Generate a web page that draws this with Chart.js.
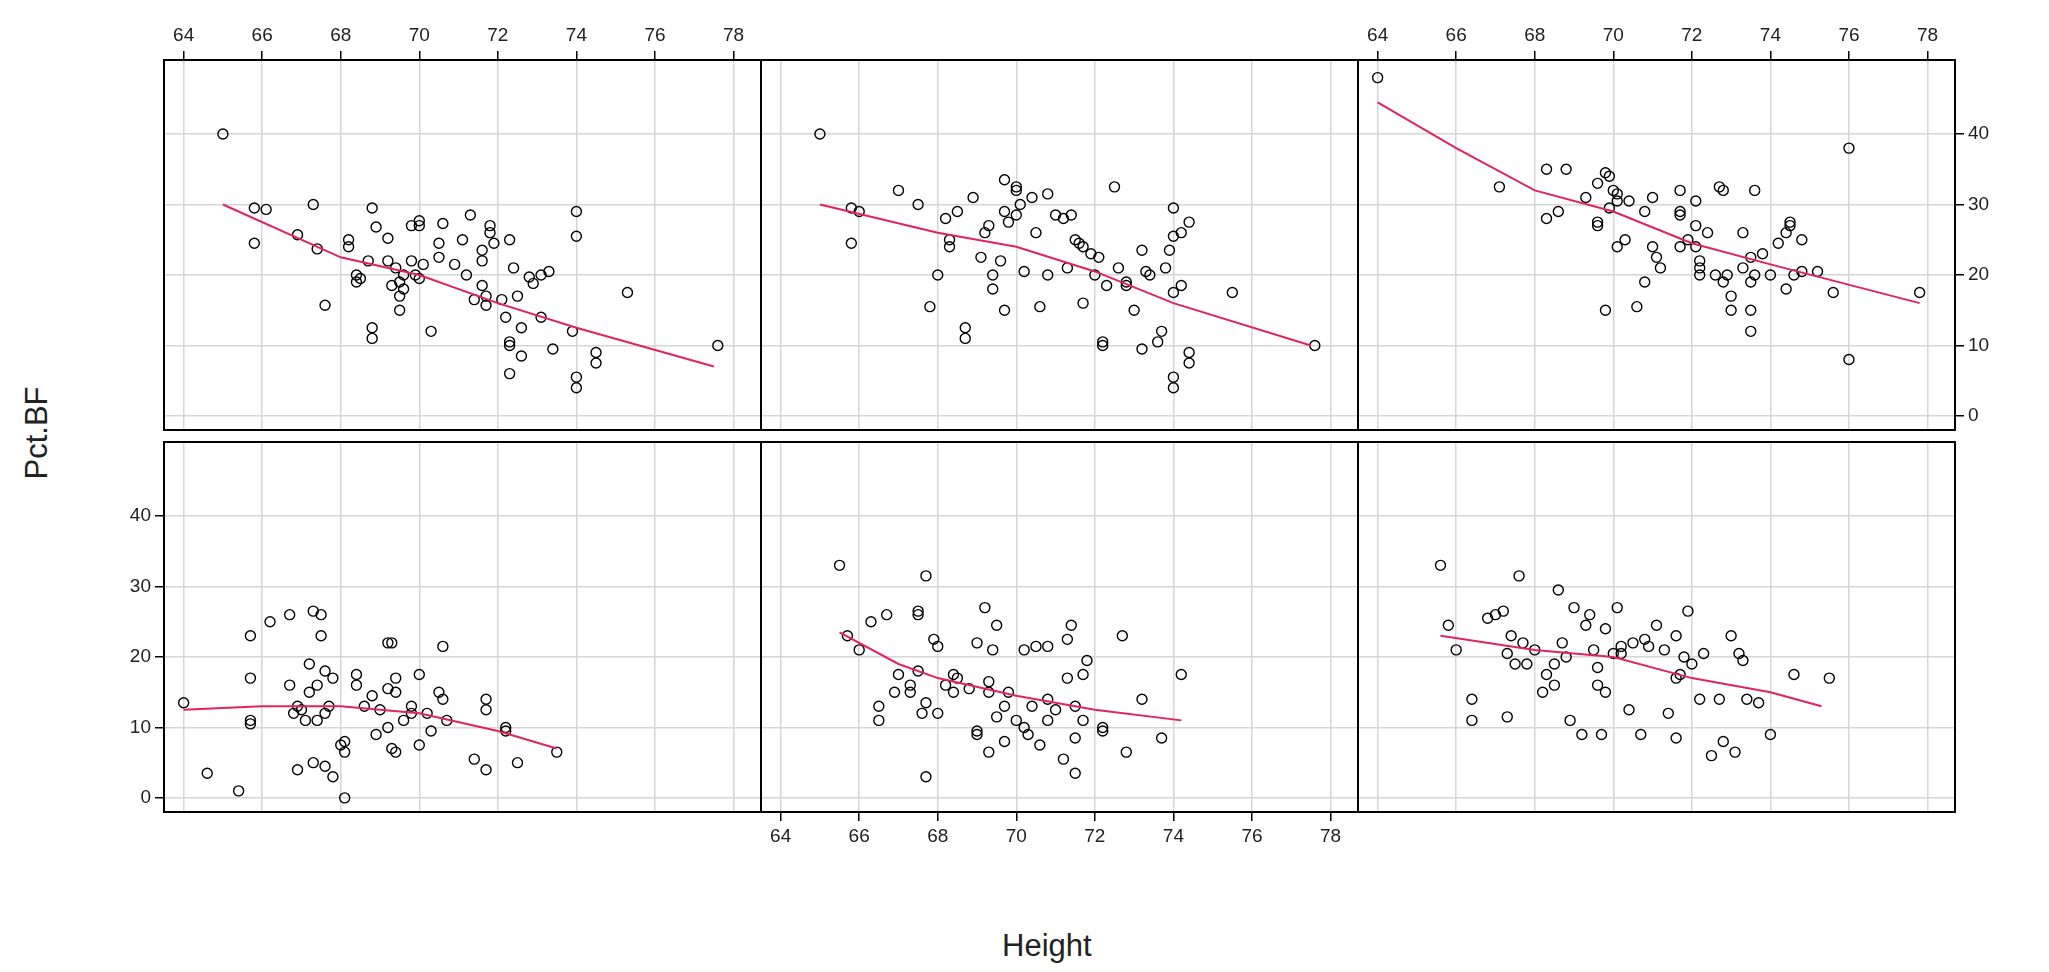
<!DOCTYPE html>
<html><head><meta charset="utf-8">
<script src="https://cdn.jsdelivr.net/npm/chart.js@4"></script>
<style>
body{margin:0;background:#fff;width:2049px;height:972px;position:relative;overflow:hidden;font-family:"Liberation Sans",Arial,sans-serif}
canvas{position:absolute}
.lab{position:absolute;font-size:31px;color:#222}
</style></head><body>
<div class="lab" style="left:1002px;top:928px">Height</div>
<div class="lab" style="left:-10px;top:415px;transform:rotate(-90deg)">Pct.BF</div>
<script>
const X_TICKS = [64, 66, 68, 70, 72, 74, 76, 78];
const Y_TICKS = [0, 10, 20, 30, 40];

// panel 1: top-left
const p1Pts = [[65,40],[65.8,29.5],[66.1,29.3],[65.8,24.5],[67.3,30],[66.9,25.7],[67.4,23.7],[67.6,15.7],[68.2,25],[68.2,24],[68.4,20],[68.4,19],[68.5,19.5],[68.7,22],[68.8,29.5],[68.9,26.8],[68.8,12.5],[68.8,11],[69.2,25.2],[69.2,22],[69.3,18.5],[69.4,21],[69.5,19],[69.5,17],[69.5,15],[69.6,20],[69.6,18],[69.8,27],[69.8,22],[69.9,20],[70,27.7],[70,27],[70,19.5],[70.1,21.5],[70.3,12],[70.5,24.5],[70.5,22.5],[70.6,27.3],[70.9,21.5],[71.1,25],[71.2,20],[71.3,28.5],[71.4,16.5],[71.6,23.5],[71.6,22],[71.6,18.5],[71.7,17],[71.7,15.7],[71.8,27],[71.8,26],[71.9,24.5],[72.1,16.5],[72.2,14],[72.3,25],[72.3,10.5],[72.3,10],[72.3,6],[72.4,21],[72.5,17],[72.6,12.5],[72.6,8.5],[72.8,19.7],[72.9,18.8],[73.1,20],[73.1,14],[73.3,20.5],[73.4,9.5],[73.9,12],[74,29],[74,25.5],[74,5.5],[74,4],[74.5,9],[74.5,7.5],[75.3,17.5],[77.6,10]];
const p1Fit = [[65,30],[68,22.5],[70,20],[72,16],[74,12.5],[77.5,7]];

// panel 2: top-middle
const p2Pts = [[65,40],[65.8,29.5],[66,29],[65.8,24.5],[67,32],[67.5,30],[67.8,15.5],[68,20],[68.2,28],[68.3,25],[68.3,24],[68.5,29],[68.7,12.5],[68.7,11],[68.9,31],[69.1,22.5],[69.2,26],[69.3,27],[69.4,20],[69.4,18],[69.6,22],[69.7,33.5],[69.7,29],[69.7,15],[69.8,27.5],[70,32.5],[70,32],[70,28.5],[70.1,30],[70.2,20.5],[70.4,31],[70.5,26],[70.6,15.5],[70.8,31.5],[70.8,20],[71,28.5],[71.2,28],[71.3,21],[71.4,28.5],[71.5,25],[71.6,24.5],[71.7,24],[71.7,16],[71.9,23],[72,20],[72.1,22.5],[72.2,10.5],[72.2,10],[72.3,18.5],[72.5,32.5],[72.6,21],[72.8,19],[72.8,18.5],[73,15],[73.2,23.5],[73.2,9.5],[73.3,20.5],[73.4,20],[73.6,10.5],[73.7,12],[73.8,21],[73.9,23.5],[74,29.5],[74,25.5],[74,17.5],[74,5.5],[74,4],[74.2,26],[74.2,18.5],[74.4,27.5],[74.4,9],[74.4,7.5],[75.5,17.5],[77.6,10]];
const p2Fit = [[65,30],[68,26],[70,24],[72,20.5],[74,16],[77.5,10]];

// panel 3: top-right
const p3Pts = [[64,48],[67.1,32.5],[68.3,35],[68.3,28],[68.6,29],[68.8,35],[69.3,31],[69.6,33],[69.6,27.5],[69.6,27],[69.8,34.5],[69.9,34],[69.9,29.5],[69.8,15],[70,32],[70.1,31.5],[70.1,30.5],[70.1,24],[70.3,25],[70.4,30.5],[70.6,15.5],[70.8,29],[70.8,19],[71,31],[71,24],[71.1,22.5],[71.2,21],[71.7,32],[71.7,29],[71.7,28.5],[71.7,24],[71.9,25],[72.1,30.5],[72.1,27],[72.1,24],[72.2,22],[72.2,21],[72.2,20],[72.4,26],[72.6,20],[72.7,32.5],[72.8,19],[72.8,32],[72.9,20],[73,17],[73,15],[73.3,26],[73.3,21],[73.5,22.5],[73.5,19],[73.5,15],[73.5,12],[73.6,32],[73.6,20],[73.8,23],[74,20],[74.2,24.5],[74.4,26],[74.4,18],[74.5,27.5],[74.5,27],[74.6,20],[74.8,20.5],[74.8,25],[75.2,20.5],[75.6,17.5],[76,38],[76,8],[77.8,17.5]];
const p3Fit = [[64,44.5],[66,38],[68,32],[70,29],[72,24.5],[74,21.5],[77.8,16]];

// panel 4: bottom-left
const p4Pts = [[64,13.5],[64.6,3.5],[65.4,1],[65.7,23],[65.7,17],[65.7,11],[65.7,10.5],[66.2,25],[66.7,26],[66.7,16],[66.8,12],[66.9,4],[66.9,13],[67,12.5],[67.1,11],[67.2,19],[67.2,15],[67.3,26.5],[67.3,5],[67.4,16],[67.4,11],[67.5,26],[67.5,23],[67.6,18],[67.6,12],[67.6,4.5],[67.7,13],[67.8,3],[67.8,17],[68,7.5],[68.1,8],[68.1,0],[68.1,6.5],[68.4,17.5],[68.4,16],[68.6,13],[68.8,14.5],[68.9,9],[69,12.5],[69.2,22],[69.3,22],[69.2,15.5],[69.2,10],[69.3,7],[69.4,17],[69.4,6.5],[69.4,15],[69.6,11],[69.8,12],[69.8,13],[70,17.5],[70,7.5],[70.2,12],[70.3,9.5],[70.5,15],[70.6,21.5],[70.6,14],[70.7,11],[71.4,5.5],[71.7,14],[71.7,12.5],[71.7,4],[72.2,10],[72.2,9.5],[72.5,5],[73.5,6.5]];
const p4Fit = [[64,12.5],[66,13],[68,13],[70,12],[72,9.5],[73.5,7]];

// panel 5: bottom-middle
const p5Pts = [[65.5,33],[65.7,23],[66,21],[66.3,25],[66.5,13],[66.5,11],[66.7,26],[66.9,15],[67,17.5],[67.3,16],[67.3,15],[67.5,26.5],[67.5,26],[67.5,18],[67.6,12],[67.7,31.5],[67.7,13.5],[67.7,3],[67.9,22.5],[68,21.5],[68,12],[68.2,16],[68.4,15],[68.4,17.5],[68.5,17],[68.8,15.5],[69,22],[69,9.5],[69,9],[69.2,27],[69.3,15],[69.3,6.5],[69.3,16.5],[69.4,21],[69.5,24.5],[69.5,11.5],[69.7,13],[69.7,8],[69.8,15],[70,11],[70.2,21],[70.2,10],[70.3,9],[70.4,13],[70.5,21.5],[70.6,7.5],[70.8,21.5],[70.8,14],[70.8,11],[71,12.5],[71.2,5.5],[71.3,22.5],[71.3,17],[71.4,24.5],[71.5,13],[71.5,8.5],[71.5,3.5],[71.7,11],[71.7,17.5],[71.8,19.5],[72.2,10],[72.2,9.5],[72.7,23],[72.8,6.5],[73.2,14],[73.7,8.5],[74.2,17.5]];
const p5Fit = [[65.5,23.5],[67,19],[68,17],[70,14.5],[72,12.5],[74.2,11]];

// panel 6: bottom-right
const p6Pts = [[65.6,33],[65.8,24.5],[66,21],[66.4,14],[66.4,11],[66.8,25.5],[67,26],[67.2,26.5],[67.3,20.5],[67.3,11.5],[67.4,23],[67.5,19],[67.6,31.5],[67.7,22],[67.8,19],[68,21],[68.2,15],[68.3,17.5],[68.5,16],[68.5,19],[68.6,29.5],[68.7,22],[68.8,20],[68.9,11],[69,27],[69.2,9],[69.3,24.5],[69.4,26],[69.5,21],[69.6,18.5],[69.6,16],[69.7,9],[69.8,15],[69.8,24],[70,20.5],[70.1,27],[70.2,21.5],[70.2,20.5],[70.4,12.5],[70.5,22],[70.7,9],[70.8,22.5],[70.9,21.5],[71.1,24.5],[71.3,21],[71.4,12],[71.6,23],[71.6,17],[71.6,8.5],[71.7,17.5],[71.8,20],[71.9,26.5],[72,19],[72.2,14],[72.3,20.5],[72.5,6],[72.7,14],[72.8,8],[73,23],[73.1,6.5],[73.2,20.5],[73.3,19.5],[73.4,14],[73.7,13.5],[74,9],[74.6,17.5],[75.5,17]];
const p6Fit = [[65.6,23],[68,21],[70,20],[72,17],[74,15],[75.3,13]];

const M = 60, PW = 597, PH = 370;
const COL_X = [164, 761, 1358];
const ROW_Y = [60, 442];

const boxPlugin = {
    id: 'box',
    afterDraw(c) {
        const a = c.chartArea, ctx = c.ctx;
        ctx.save(); ctx.strokeStyle = '#000'; ctx.lineWidth = 2;
        ctx.strokeRect(a.left, a.top, a.right - a.left, a.bottom - a.top);
        ctx.restore();
    }
};

function axis(pos, labelled, grid, ticksArr, min, max) {
    return {
        position: pos, min, max,
        afterFit: s => { if (pos === 'left' || pos === 'right') s.width = M; else s.height = M; },
        afterBuildTicks: s => { s.ticks = ticksArr.map(v => ({ value: v })); },
        border: { display: true, color: '#000', width: 2 },
        grid: { display: true, drawOnChartArea: grid, color: '#d6d6d6', lineWidth: 1.5,
                drawTicks: labelled, tickColor: '#000', tickLength: 9, tickWidth: 1.5 },
        ticks: { display: labelled, color: '#222', font: { size: 19, family: 'Liberation Sans' }, padding: 4, maxRotation: 0 },
    };
}

function panel(col, row, pts, fit, lab) {
    const cv = document.createElement('canvas');
    const w = PW + 2 * M, h = PH + 2 * M;
    cv.width = w; cv.height = h;
    cv.style.left = (COL_X[col] - M) + 'px';
    cv.style.top = (ROW_Y[row] - M) + 'px';
    cv.style.width = w + 'px'; cv.style.height = h + 'px';
    document.body.appendChild(cv);
    new Chart(cv, {
        type: 'scatter',
        data: { datasets: [
            { data: fit.map(([x, y]) => ({ x, y })), showLine: true, borderColor: '#e0245e', borderWidth: 2,
              pointRadius: 0, fill: false },
            { data: pts.map(([x, y]) => ({ x, y })), pointRadius: 5, pointBorderColor: '#000',
              pointBorderWidth: 1.4, pointBackgroundColor: 'rgba(0,0,0,0)' },
        ]},
        options: {
            responsive: false, animation: false, devicePixelRatio: 1,
            layout: { padding: 0 },
            plugins: { legend: { display: false }, tooltip: { enabled: false } },
            scales: {
                x: axis('bottom', !!lab.b, true, X_TICKS, 63.5, 78.7),
                x2: axis('top', !!lab.t, false, X_TICKS, 63.5, 78.7),
                y: axis('left', !!lab.l, true, Y_TICKS, -2, 50.5),
                y2: axis('right', !!lab.r, false, Y_TICKS, -2, 50.5),
            },
        },
        plugins: [boxPlugin],
    });
}

panel(0, 0, p1Pts, p1Fit, { t: true });
panel(1, 0, p2Pts, p2Fit, {});
panel(2, 0, p3Pts, p3Fit, { t: true, r: true });
panel(0, 1, p4Pts, p4Fit, { l: true });
panel(1, 1, p5Pts, p5Fit, { b: true });
panel(2, 1, p6Pts, p6Fit, {});
</script>
</body></html>
